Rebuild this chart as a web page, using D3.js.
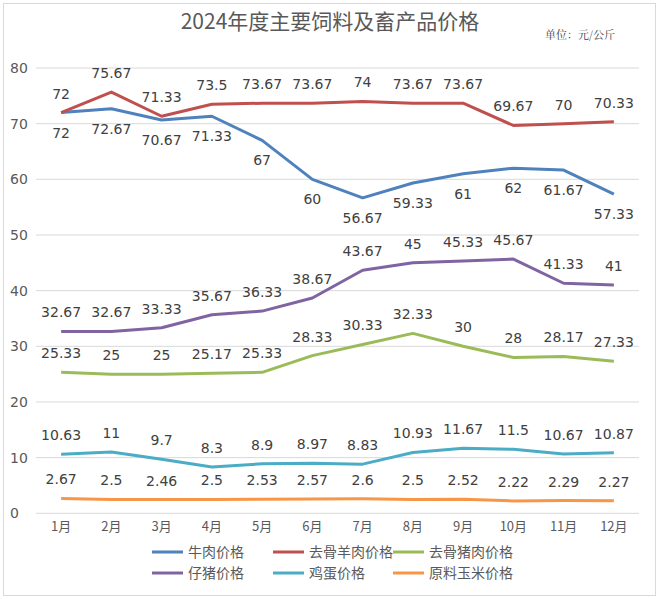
<!DOCTYPE html>
<html><head><meta charset="utf-8">
<script src="https://cdn.jsdelivr.net/npm/d3@7"></script>
<style>body{margin:0;background:#fff}svg{display:block}</style>
</head><body><svg id="c" width="660" height="599"></svg>
<script>
const months = ["1月","2月","3月","4月","5月","6月","7月","8月","9月","10月","11月","12月"];
const seriesNames = ["牛肉价格","去骨羊肉价格","去骨猪肉价格","仔猪价格","鸡蛋价格","原料玉米价格"];
const beef   = [72, 72.67, 70.67, 71.33, 67, 60, 56.67, 59.33, 61, 62, 61.67, 57.33];
const lamb   = [72, 75.67, 71.33, 73.5, 73.67, 73.67, 74, 73.67, 73.67, 69.67, 70, 70.33];
const pork   = [25.33, 25, 25, 25.17, 25.33, 28.33, 30.33, 32.33, 30, 28, 28.17, 27.33];
const piglet = [32.67, 32.67, 33.33, 35.67, 36.33, 38.67, 43.67, 45, 45.33, 45.67, 41.33, 41];
const egg    = [10.63, 11, 9.7, 8.3, 8.9, 8.97, 8.83, 10.93, 11.67, 11.5, 10.67, 10.87];
const corn   = [2.67, 2.5, 2.46, 2.5, 2.53, 2.57, 2.6, 2.5, 2.52, 2.22, 2.29, 2.27];
const yTicks = [0, 10, 20, 30, 40, 50, 60, 70, 80];
const colors = ["#4F81BD","#C0504D","#9BBB59","#8064A2","#4BACC6","#F79646"];
const labelPos = ["below","above","above","above","above","above"];
const allSeries = [beef, lamb, pork, piglet, egg, corn];

const svg = d3.select("#c");
const numFont = "'DejaVu Sans', 'Noto Sans CJK SC', sans-serif";
const cjkFont = "'Noto Sans CJK SC', sans-serif";

svg.append("rect").attr("x",3.5).attr("y",3.5).attr("width",652).attr("height",592)
  .attr("fill","#fff").attr("stroke","#d9d9d9");

const pLeft = 36, pRight = 639, pTop = 68, pBottom = 513.3;
const x = d3.scaleBand().domain(months).range([pLeft, pRight]);
const y = d3.scaleLinear().domain([0, 80]).range([pBottom, pTop]);

// grid
svg.append("g").selectAll("line").data(yTicks).join("line")
  .attr("x1", pLeft).attr("x2", pRight)
  .attr("y1", d => y(d)).attr("y2", d => y(d))
  .attr("stroke", "#d9d9d9").attr("stroke-width", 1);

// y axis labels (left-aligned as in reference)
const yAxis = d3.axisLeft(y).tickValues(yTicks).tickSize(0).tickPadding(0);
const yg = svg.append("g").attr("transform", `translate(10,0)`).call(yAxis);
yg.select(".domain").remove();
yg.selectAll("text").attr("text-anchor","start").attr("x",0)
  .attr("font-family", numFont).attr("font-size", 14).attr("fill", "#595959");

// x axis labels
const xAxis = d3.axisBottom(x).tickSize(0).tickPadding(0);
const xg = svg.append("g").attr("transform", `translate(0,${pBottom+8})`).call(xAxis);
xg.select(".domain").remove();
xg.selectAll("text").attr("font-family", cjkFont).attr("font-size", 13).attr("fill", "#595959");

// lines
const line = d3.line().x((d,i) => x(months[i]) + x.bandwidth()/2).y(d => y(d));
allSeries.forEach((s, k) => {
  svg.append("path").datum(s).attr("d", line).attr("fill","none")
    .attr("stroke", colors[k]).attr("stroke-width", 3).attr("stroke-linejoin","round");
});

// labels
allSeries.forEach((s, k) => {
  svg.append("g").selectAll("text").data(s).join("text")
    .attr("x", (d,i) => x(months[i]) + x.bandwidth()/2)
    .attr("y", d => y(d) + (labelPos[k] === "above" ? -14 : 25))
    .attr("text-anchor","middle")
    .attr("font-family", numFont).attr("font-size", 14).attr("fill", "#404040")
    .text(d => d);
});

// title
svg.append("text").attr("x", 330).attr("y", 29).attr("text-anchor","middle")
  .attr("font-family", cjkFont).attr("font-size", 21).attr("fill", "#595959")
  .text("2024年度主要饲料及畜产品价格");
svg.append("text").attr("x", 580).attr("y", 39).attr("text-anchor","middle")
  .attr("font-family", "'Noto Serif CJK SC', 'Noto Sans CJK SC', serif").attr("font-size", 11).attr("fill", "#404040")
  .text("单位：元/公斤");

// legend
const legX = [152, 273, 393];
const legY = [552, 573];
seriesNames.forEach((n, k) => {
  const gx = legX[k % 3], gy = legY[Math.floor(k / 3)];
  const g = svg.append("g");
  g.append("line").attr("x1", gx).attr("x2", gx + 31).attr("y1", gy).attr("y2", gy)
    .attr("stroke", colors[k]).attr("stroke-width", 3);
  g.append("text").attr("x", gx + 36).attr("y", gy + 5)
    .attr("font-family", cjkFont).attr("font-size", 14).attr("fill", "#595959").text(n);
});
</script></body></html>
